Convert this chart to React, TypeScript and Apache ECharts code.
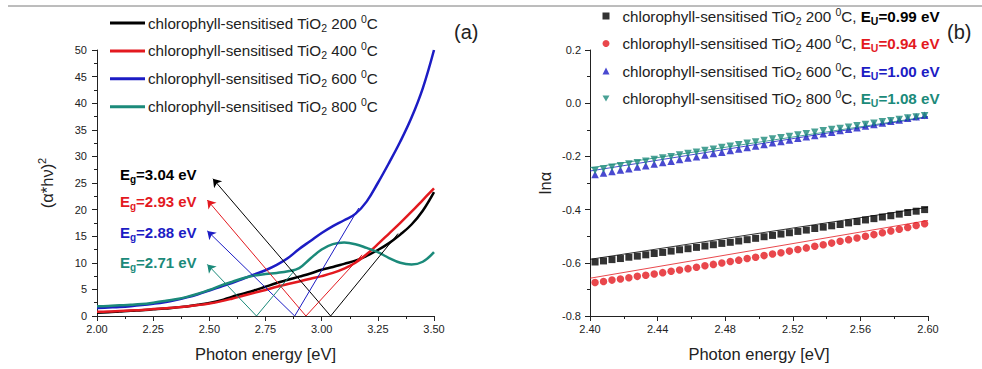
import React, { useEffect, useRef } from 'react';
import * as echarts from 'echarts';

const FONT = '"Liberation Sans", Arial, Helvetica, sans-serif';

// ---------- panel (a) ----------
const curveX = [2.00, 2.05, 2.10, 2.15, 2.20, 2.25, 2.30, 2.35, 2.40, 2.45, 2.50, 2.55, 2.60, 2.65, 2.70, 2.75, 2.80, 2.85, 2.90, 2.95, 3.00, 3.05, 3.10, 3.15, 3.20, 3.25, 3.30, 3.35, 3.40, 3.45, 3.50];
const tio200 = [0.6, 0.7, 0.85, 1.0, 1.1, 1.25, 1.4, 1.6, 1.8, 2.1, 2.45, 2.9, 3.6, 4.2, 4.8, 5.5, 6.2, 6.8, 7.4, 8.0, 8.7, 9.2, 9.8, 10.4, 11.3, 12.4, 13.7, 15.3, 17.2, 19.8, 23.3];
const tio400 = [0.8, 0.85, 0.95, 1.05, 1.15, 1.3, 1.45, 1.6, 1.8, 2.05, 2.35, 2.75, 3.25, 3.8, 4.35, 4.9, 5.5, 6.0, 6.5, 7.0, 7.5, 8.1, 8.9, 10.0, 11.6, 13.5, 15.5, 17.5, 19.6, 21.8, 24.0];
const tio600 = [1.5, 1.6, 1.7, 1.85, 2.05, 2.3, 2.6, 3.0, 3.5, 4.1, 4.8, 5.5, 6.2, 7.0, 7.8, 8.6, 9.6, 10.9, 12.6, 14.1, 15.6, 16.9, 18.0, 19.2, 21.5, 25.0, 28.8, 32.8, 37.3, 42.8, 50.0];
const tio800 = [1.85, 1.9, 2.0, 2.1, 2.25, 2.5, 2.8, 3.15, 3.6, 4.2, 4.9, 5.7, 6.4, 7.1, 7.6, 7.9, 8.1, 8.4, 9.0, 10.8, 12.5, 13.5, 13.8, 13.5, 12.8, 12.0, 10.9, 10.0, 9.7, 10.2, 12.0];

const temps = ['200', '400', '600', '800'];
const colors = ['#000000', '#e3191f', '#1c1cc4', '#1b8a7a'];
const egValues = [3.04, 2.93, 2.88, 2.71];
const arrowTips = [[2.516, 25.8], [2.491, 21.8], [2.491, 16.0], [2.491, 9.7]];
const tangentEnds = [[3.34, 15.5], [3.18, 11.5], [3.165, 20.3], [2.88, 8.6]];

// ---------- panel (b) ----------
const euValues = ['0.99', '0.94', '1.00', '1.08'];
const lnX = [2.403, 2.408, 2.413, 2.418, 2.423, 2.428, 2.433, 2.438, 2.443, 2.448, 2.453, 2.458, 2.463, 2.468, 2.473, 2.478, 2.483, 2.488, 2.493, 2.498, 2.503, 2.508, 2.513, 2.518, 2.523, 2.528, 2.533, 2.538, 2.543, 2.548, 2.553, 2.558, 2.563, 2.568, 2.573, 2.578, 2.583, 2.588, 2.593, 2.598];
const ln200 = [-0.597, -0.593, -0.588, -0.584, -0.579, -0.575, -0.570, -0.565, -0.561, -0.556, -0.551, -0.547, -0.542, -0.537, -0.532, -0.527, -0.523, -0.518, -0.513, -0.508, -0.502, -0.497, -0.492, -0.487, -0.482, -0.477, -0.471, -0.466, -0.461, -0.456, -0.450, -0.445, -0.439, -0.434, -0.428, -0.423, -0.417, -0.411, -0.406, -0.400];
const ln400 = [-0.674, -0.670, -0.665, -0.661, -0.656, -0.651, -0.647, -0.642, -0.637, -0.632, -0.627, -0.622, -0.617, -0.611, -0.606, -0.601, -0.595, -0.590, -0.584, -0.579, -0.573, -0.567, -0.562, -0.556, -0.550, -0.544, -0.538, -0.532, -0.526, -0.519, -0.513, -0.507, -0.500, -0.494, -0.487, -0.480, -0.474, -0.467, -0.460, -0.453];
const ln600 = [-0.268, -0.262, -0.257, -0.251, -0.246, -0.240, -0.235, -0.229, -0.223, -0.218, -0.212, -0.206, -0.201, -0.195, -0.189, -0.184, -0.178, -0.172, -0.167, -0.161, -0.155, -0.149, -0.144, -0.138, -0.132, -0.126, -0.121, -0.115, -0.109, -0.103, -0.098, -0.092, -0.086, -0.080, -0.074, -0.068, -0.063, -0.057, -0.051, -0.045];
const ln800 = [-0.253, -0.247, -0.241, -0.235, -0.229, -0.224, -0.218, -0.212, -0.206, -0.201, -0.195, -0.189, -0.184, -0.178, -0.173, -0.167, -0.162, -0.156, -0.151, -0.146, -0.140, -0.135, -0.130, -0.125, -0.120, -0.115, -0.109, -0.104, -0.099, -0.095, -0.090, -0.085, -0.080, -0.075, -0.070, -0.066, -0.061, -0.056, -0.052, -0.047];
const fitX = [2.40, 2.60];
const fitStart = [-0.587, -0.658, -0.255, -0.243];
const fitEnd = [-0.391, -0.441, -0.052, -0.050];
const markerSymbols = ['rect', 'circle', 'triangle', 'path://M0,0 L20,0 L10,17.3 Z'];
const markerSizes = [7, 7.5, 7.5, 7.5];

const curves = [tio200, tio400, tio600, tio800];
const lnSeries = [ln200, ln400, ln600, ln800];

const NB = '\u00a0';
const leftNames = temps.map((t) => `chlorophyll-sensitised TiO2 ${t} °C`);
const rightNames = temps.map((t, i) => `chlorophyll-sensitised TiO2 ${t} °C, EU=${euValues[i]} eV`);

const AX = '#222';

const baseRich: any = {
  t: { fontSize: 15.2, lineHeight: 20, fontFamily: FONT, color: '#222' },
  sub: { fontSize: 10.5, lineHeight: 10, verticalAlign: 'bottom', fontFamily: FONT, color: '#222' },
  sup: { fontSize: 10.5, lineHeight: 10, verticalAlign: 'top', fontFamily: FONT, color: '#222' },
};
const rightRich: any = { ...baseRich };
colors.forEach((c, i) => {
  rightRich['e' + i] = { fontSize: 15.2, lineHeight: 20, fontWeight: 'bold', fontFamily: FONT, color: c };
  rightRich['es' + i] = { fontSize: 10.5, lineHeight: 10, verticalAlign: 'bottom', fontWeight: 'bold', fontFamily: FONT, color: c };
});

function axisCommon(min: number, max: number, interval: number, digits: number, margin: number) {
  return {
    type: 'value',
    min,
    max,
    interval,
    axisLine: { show: true, onZero: false, lineStyle: { color: AX, width: 1 } },
    axisTick: { show: true, length: 5, lineStyle: { color: AX } },
    minorTick: { show: true, splitNumber: 2, length: 3, lineStyle: { color: AX } },
    splitLine: { show: false },
    axisLabel: {
      fontSize: 11,
      fontFamily: FONT,
      color: AX,
      margin,
      formatter: (v: number) => v.toFixed(digits),
    },
  };
}

export default function App() {
  const ref = useRef<HTMLDivElement>(null);
  useEffect(() => {
    if (!ref.current) return;
    const chart = echarts.init(ref.current, undefined, { renderer: 'svg' });

    const series: any[] = [];
    curves.forEach((vals, i) => {
      series.push({
        name: leftNames[i],
        type: 'line',
        xAxisIndex: 0,
        yAxisIndex: 0,
        data: curveX.map((x, j) => [x, vals[j]]),
        smooth: 0.4,
        symbol: 'none',
        lineStyle: { color: colors[i], width: 2.5 },
        itemStyle: { color: colors[i] },
        z: 3,
      });
    });
    series.push({
      name: 'arrows',
      type: 'lines',
      coordinateSystem: 'cartesian2d',
      xAxisIndex: 0,
      yAxisIndex: 0,
      symbol: ['none', 'arrow'],
      symbolSize: 8,
      z: 4,
      lineStyle: { opacity: 1, width: 1 },
      data: egValues.map((eg, i) => ({
        coords: [[eg, 0], arrowTips[i]],
        lineStyle: { color: colors[i], width: 1, opacity: 1 },
      })),
    });
    series.push({
      name: 'tangents',
      type: 'lines',
      coordinateSystem: 'cartesian2d',
      xAxisIndex: 0,
      yAxisIndex: 0,
      symbol: 'none',
      z: 4,
      lineStyle: { opacity: 1, width: 1 },
      data: egValues.map((eg, i) => ({
        coords: [[eg, 0], tangentEnds[i]],
        lineStyle: { color: colors[i], width: 1, opacity: 1 },
      })),
    });
    lnSeries.forEach((vals, i) => {
      series.push({
        name: 'fit ' + temps[i],
        type: 'line',
        xAxisIndex: 1,
        yAxisIndex: 1,
        data: [[fitX[0], fitStart[i]], [fitX[1], fitEnd[i]]],
        symbol: 'none',
        lineStyle: { color: colors[i], width: 0.8 },
        z: 2,
      });
    });
    lnSeries.forEach((vals, i) => {
      series.push({
        name: rightNames[i],
        type: 'scatter',
        xAxisIndex: 1,
        yAxisIndex: 1,
        data: lnX.map((x, j) => [x, vals[j]]),
        symbol: markerSymbols[i],
        symbolSize: markerSizes[i],
        itemStyle: { color: colors[i] },
        z: 3 + i,
      });
    });

    const egTops = [164, 191.5, 222, 252];

    chart.setOption({
      animation: false,
      backgroundColor: '#ffffff',
      grid: [
        { left: 97, top: 50, width: 337, height: 272, containLabel: false },
        { left: 590, top: 50, width: 338, height: 272, containLabel: false },
      ],
      xAxis: [
        {
          ...axisCommon(2, 3.5, 0.25, 2, 7),
          gridIndex: 0,
          name: 'Photon energy [eV]',
          nameLocation: 'middle',
          nameGap: 28,
          nameTextStyle: { fontSize: 16.5, fontFamily: FONT, color: '#222', lineHeight: 20 },
        },
        {
          ...axisCommon(2.4, 2.6, 0.04, 2, 7),
          gridIndex: 1,
          name: 'Photon energy [eV]',
          nameLocation: 'middle',
          nameGap: 28,
          nameTextStyle: { fontSize: 16.5, fontFamily: FONT, color: '#222', lineHeight: 20 },
        },
      ],
      yAxis: [
        {
          ...axisCommon(0, 50, 5, 0, 10),
          gridIndex: 0,
          name: '{t|(α*hν)}{sup|2}',
          nameLocation: 'middle',
          nameRotate: 90,
          nameGap: 39,
          nameTextStyle: {
            fontFamily: FONT,
            color: '#222',
            rich: {
              t: { fontSize: 16.5, lineHeight: 22, fontFamily: FONT, color: '#222' },
              sup: { fontSize: 11, lineHeight: 11, verticalAlign: 'top', fontFamily: FONT, color: '#222' },
            },
          },
        },
        {
          ...axisCommon(-0.8, 0.2, 0.2, 1, 9),
          gridIndex: 1,
          name: 'lnα',
          nameLocation: 'middle',
          nameRotate: 90,
          nameGap: 35,
          nameTextStyle: { fontSize: 16.5, fontFamily: FONT, color: '#222', lineHeight: 20 },
        },
      ],
      legend: [
        {
          data: leftNames,
          orient: 'vertical',
          left: 110,
          top: 13,
          padding: 0,
          itemGap: 7.9,
          itemWidth: 35,
          itemHeight: 3,
          icon: 'rect',
          selectedMode: false,
          formatter: (name: string) => {
            const i = leftNames.indexOf(name);
            return `{t|chlorophyll-sensitised TiO}{sub|2}{t|${NB}${temps[i]}${NB}}{sup|0}{t|C}`;
          },
          textStyle: { fontFamily: FONT, color: '#222', rich: baseRich, padding: [0, 0, 0, -2] },
        },
        {
          data: rightNames,
          orient: 'vertical',
          left: 602.5,
          top: 6,
          padding: 0,
          itemGap: 7.5,
          itemWidth: 7,
          itemHeight: 7,
          selectedMode: false,
          formatter: (name: string) => {
            const i = rightNames.indexOf(name);
            return `{t|chlorophyll-sensitised TiO}{sub|2}{t|${NB}${temps[i]}${NB}}{sup|0}{t|C,${NB}}{e${i}|E}{es${i}|U}{e${i}|=${euValues[i]} eV}`;
          },
          textStyle: { fontFamily: FONT, color: '#222', rich: rightRich, padding: [0, 0, 0, 8] },
        },
      ],
      graphic: [
        {
          type: 'line',
          shape: { x1: 8, y1: 6, x2: 982, y2: 6 },
          style: { stroke: '#7a7a7a', lineWidth: 1 },
          silent: true,
        },
        {
          type: 'text',
          x: 454,
          y: 32,
          style: { text: '(a)', fontSize: 20, fontFamily: FONT, fill: '#222', verticalAlign: 'middle', align: 'left' },
        },
        {
          type: 'text',
          x: 947,
          y: 32,
          style: { text: '(b)', fontSize: 20, fontFamily: FONT, fill: '#222', verticalAlign: 'middle', align: 'left' },
        },
        ...egValues.map((eg, i) => ({
          type: 'text',
          x: 120,
          y: egTops[i],
          style: {
            text: `{b|E}{s|g}{b|=${eg.toFixed(2)} eV}`,
            verticalAlign: 'top',
            align: 'left',
            rich: {
              b: { fontSize: 15, lineHeight: 20, fontWeight: 'bold', fontFamily: FONT, fill: colors[i], color: colors[i] },
              s: { fontSize: 10, lineHeight: 10, verticalAlign: 'bottom', fontWeight: 'bold', fontFamily: FONT, fill: colors[i], color: colors[i] },
            },
          },
        })),
      ],
      series,
    });

    return () => chart.dispose();
  }, []);

  return (
    <div
      ref={ref}
      style={{ position: 'fixed', left: 0, top: 0, width: 982, height: 369, background: '#fff' }}
    />
  );
}
